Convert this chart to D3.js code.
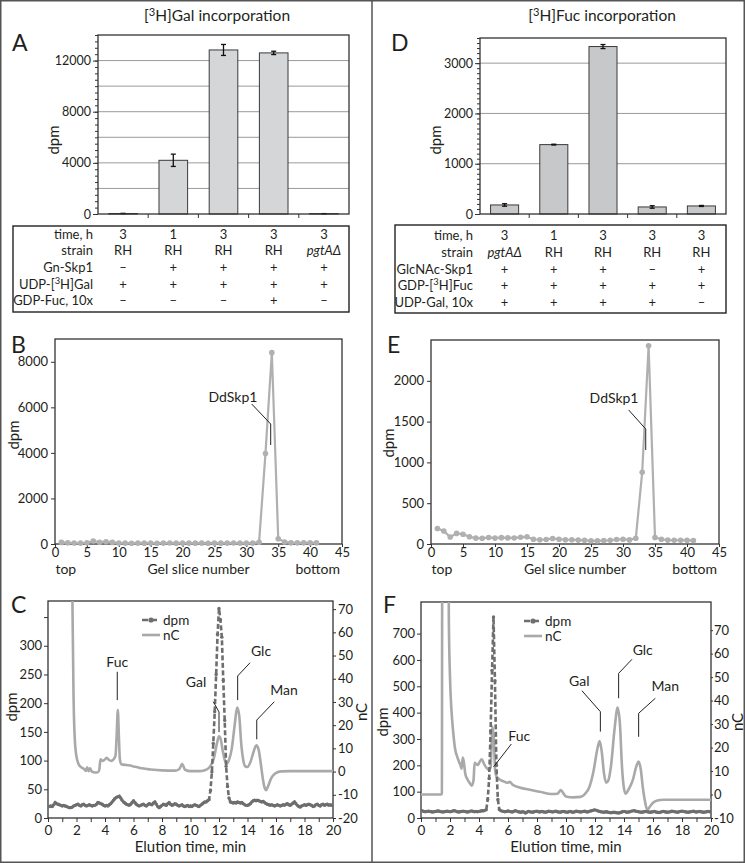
<!DOCTYPE html>
<html><head><meta charset="utf-8">
<script src="https://cdn.jsdelivr.net/npm/d3@7"></script>
<style>
body{margin:0;background:#fff}
svg{display:block}
text{font-family:Lato,"Open Sans",sans-serif;fill:#231f20}
</style></head>
<body><svg id="fig" width="745" height="863"></svg>
<script>
// ================= DATA =================
// Panel A : [3H]Gal incorporation
const galDpm = [40, 4200, 12830, 12600, 30];
const galErr = [0, 480, 430, 130, 0];
const galTicks = [0, 4000, 8000, 12000];
const galGrid = [2000, 4000, 6000, 8000, 10000, 12000];
const galRowLabels = ["time, h", "strain", "Gn-Skp1", "UDP-[3H]Gal", "GDP-Fuc, 10x"];
const galTable = [
  ["3", "1", "3", "3", "3"],
  ["RH", "RH", "RH", "RH", "pgtAΔ"],
  ["–", "+", "+", "+", "+"],
  ["+", "+", "+", "+", "+"],
  ["–", "–", "–", "+", "–"]
];
// Panel D : [3H]Fuc incorporation
const fucDpm = [180, 1380, 3330, 140, 160];
const fucErr = [25, 8, 40, 25, 10];
const fucTicks = [0, 1000, 2000, 3000];
const fucGrid = [1000, 2000, 3000];
const fucRowLabels = ["time, h", "strain", "GlcNAc-Skp1", "GDP-[3H]Fuc", "UDP-Gal, 10x"];
const fucTable = [
  ["3", "1", "3", "3", "3"],
  ["pgtAΔ", "RH", "RH", "RH", "RH"],
  ["+", "+", "+", "–", "+"],
  ["+", "+", "+", "+", "+"],
  ["+", "+", "+", "+", "–"]
];
// Panels B / E : gel slices
const gelSlices = [1,2,3,4,5,6,7,8,9,10,11,12,13,14,15,16,17,18,19,20,21,22,23,24,25,26,27,28,29,30,31,32,33,34,35,36,37,38,39,40,41];
const gelGal = [70,50,45,40,50,130,80,100,70,40, 40,35,40,38,40,35,40,42,38,40, 40,38,40,35,40,38,40,42,40,38, 40,80,3970,8400,230,90,50,50,50,50,50];
const gelFuc = [190,160,85,130,120,88,72,70,80,72, 78,75,74,82,88,58,52,55,68,58, 52,52,48,45,38,38,42,46,55,58, 50,70,880,2430,80,58,48,46,46,45,42];
const gelXTicks = [0,5,10,15,20,25,30,35,40,45];
const gelGalYTicks = [0,2000,4000,6000,8000];
const gelFucYTicks = [0,500,1000,1500,2000];
// Panels C / F : HPAEC, dpm sampled every 0.1 min
const dpmStep = 0.1;
const dpmStartC = 0.1;
const dpmC = [
  20,21,20,23,27,25,24,23,22,21, 22,21,20,19,18,18,19,21,22,23,
  24,22,21,23,24,22,21,22,23,22, 21,22,22,24,27,26,25,24,22,21,
  22,21,23,25,28,31,34,36,37,38, 35,31,28,26,24,23,22,24,27,30,
  27,24,22,21,22,23,24,22,21,23, 25,24,23,26,28,24,20,18,20,22,
  24,23,22,25,27,24,22,23,25,24, 22,21,22,23,21,20,21,22,20,21,
  20,22,23,22,21,20,22,24,26,28, 28,30,32,48,80,130,185,250,320,365,
  345,315,240,170,90,55,35,28,27,26, 27,26,28,27,26,27,25,23,22,22,
  23,25,28,30,31,30,31,30,29,28, 29,27,25,24,23,22,23,22,21,22,
  23,22,21,22,23,22,24,25,23,22, 24,26,28,25,22,20,19,21,22,23,
  22,23,24,23,22,20,21,23,24,22, 21,23,24,22,23,24,22,23,22,23
];
const dpmStartF = 0.0;
const dpmF = [
  29,27,25,24,25,26,25,24,23,24, 25,26,27,25,24,23,24,25,26,25,
  24,25,27,28,26,24,23,24,25,26, 25,24,23,24,26,27,25,24,25,24,
  25,26,28,27,29,31,70,150,330,560, 763,520,200,70,32,28,26,25,24,25,
  27,25,24,23,25,28,26,24,23,22, 24,23,19,22,25,24,23,22,24,25,
  26,24,23,25,24,23,22,24,26,25, 24,23,25,26,24,23,22,24,25,24,
  23,22,24,25,23,22,24,26,25,24, 23,24,25,26,24,23,25,27,28,30,
  31,29,27,25,24,23,22,23,24,22, 21,20,21,22,21,20,19,20,22,24,
  25,24,22,23,24,26,27,28,26,25, 24,23,22,23,24,25,24,23,22,23,
  24,25,23,22,21,22,24,25,24,23, 22,23,24,26,25,24,23,22,24,25,
  26,25,24,23,22,23,24,25,26,24, 23,24,25,24,23,22,23,24,25,24,
  24
];
// nC traces: [time (min), nC]
const ncC = [
  [1.66,140],[1.72,70],[1.80,30],[1.88,14],[1.96,8],[2.05,5],[2.18,2.8],[2.35,1.8],[2.55,1.0],
  [2.65,0.3],[2.75,1.8],[2.85,0.2],[2.95,1.4],[3.08,0.0],[3.3,-0.4],[3.5,-0.3],[3.6,0.8],
  [3.68,5.3],[3.8,4.6],[3.95,5.0],[4.12,5.9],[4.28,5.0],[4.45,4.6],[4.62,5.4],[4.74,7],
  [4.82,16],[4.9,26.5],[4.97,16],[5.04,5.5],[5.14,3.2],[5.5,2.8],[5.85,2.5],[6.0,2.2],
  [6.2,2.0],[6.6,1.4],[7.2,0.9],[8.0,0.5],[8.9,0.4],[9.2,1.0],[9.42,3.2],[9.62,0.8],
  [10.0,0.2],[10.6,0.2],[11.0,0.6],[11.35,2.0],[11.65,6],[11.85,12],[12.0,15.2],
  [12.12,14],[12.26,9],[12.4,5],[12.55,3.3],[12.7,5],[12.9,10],[13.1,20],[13.27,27.6],
  [13.42,24],[13.56,12],[13.7,5],[13.85,2.2],[14.0,2.0],[14.2,4],[14.45,9],[14.62,11.3],
  [14.78,9.5],[14.92,4],[15.05,-2],[15.18,-6.5],[15.3,-8],[15.45,-6.2],[15.65,-3],
  [15.85,-1.3],[16.1,-0.3],[16.4,0.1],[17.0,0.2],[18.5,0.2],[20.0,0.2]
];
const ncF = [
  [0.0,0],[1.40,0],[1.44,0.5],[1.47,130],[1.88,130],[1.92,75],[2.0,50],[2.1,36],[2.2,28],
  [2.35,19.5],[2.5,16],[2.62,14],[2.72,12.5],[2.8,11],[2.88,15.8],[2.95,14],[3.05,9],
  [3.2,6.5],[3.35,5],[3.5,3.8],[3.62,6],[3.7,13.5],[3.8,13],[3.92,12.6],[4.05,14],[4.2,15],
  [4.35,13],[4.5,11.5],[4.68,10.5],[4.8,11.5],[4.93,29],[5.02,24],[5.12,10],[5.22,7.5],
  [5.4,6.5],[5.7,5.6],[5.95,5.0],[6.12,5.4],[6.3,4.3],[6.8,3.0],[7.5,2.0],[8.2,1.2],
  [9.0,0.2],[9.4,0.3],[9.65,1.9],[9.82,0.5],[10.0,-0.8],[10.5,-1.2],[11.0,-1.0],[11.3,0.2],
  [11.6,3],[11.9,10],[12.15,19],[12.32,22.8],[12.47,18],[12.62,9],[12.77,5],[12.92,6],
  [13.1,12],[13.35,28],[13.56,37],[13.72,30],[13.86,12],[14.0,2.5],[14.12,0.3],[14.3,2],
  [14.6,6],[14.85,12],[15.0,14],[15.15,11],[15.3,3],[15.45,-3],[15.6,-6.5],[15.8,-5],
  [16.0,-3.5],[16.3,-2.5],[16.7,-2.2],[18.0,-2.2],[20.0,-2.2]
];
const elutionTicks = [0,1,2,3,4,5,6,7,8,9,10,11,12,13,14,15,16,17,18,19,20];
const elutionLabels = [0,2,4,6,8,10,12,14,16,18,20];
const dpmTicksC = [0,50,100,150,200,250,300,350];
const dpmLabelsC = [0,50,100,150,200,250,300];
const ncTicksC = [-20,-10,0,10,20,30,40,50,60,70];
const dpmTicksF = [0,100,200,300,400,500,600,700];
const ncTicksF = [-10,0,10,20,30,40,50,60,70];
// annotations (label position and leader line in data units: time / nC, slice / dpm)
const annC = [
  {label:"Fuc", at:[4.86,45.0], line:[[4.86,43.0],[4.86,30.8]]},
  {label:"Gal", at:[10.39,36.4], line:[[11.6,30.1],[12.0,25.7],[12.0,17.0]]},
  {label:"Glc", at:[14.95,49.8], line:[[14.18,46.9],[13.31,41.2],[13.31,30.8]]},
  {label:"Man", at:[16.56,33.0], line:[[15.88,30.1],[14.65,22.2],[14.65,13.9]]}
];
const annF = [
  {label:"Fuc", at:[6.78,22.8], line:[[6.23,21.5],[5.01,11.8]]},
  {label:"Gal", at:[10.92,46.2], line:[[11.1,44.2],[12.37,35.3],[12.37,26.8]]},
  {label:"Glc", at:[15.29,59.4], line:[[14.55,57.6],[13.63,51.6],[13.63,41.0]]},
  {label:"Man", at:[16.85,44.1], line:[[16.16,41.0],[15.01,34.6],[15.01,24.6]]}
];
const annB = {label:"DdSkp1", at:[27.9,6256], line:[[30.84,6146],[33.82,5268],[33.82,4346]]};
const annE = {label:"DdSkp1", at:[28.6,1722], line:[[30.89,1642],[33.55,1409],[33.55,1152]]};

// ================= DRAWING =================
const W = 745, H = 863;
const ink = "#231f20", axisCol = "#333";
const svg = d3.select("#fig");

function richText(sel, str){
  const parts = str.split("[3H]");
  sel.append("tspan").text(parts[0]);
  if(parts.length > 1){
    sel.append("tspan").text("[");
    sel.append("tspan").attr("dy",-5).attr("font-size","0.72em").text("3");
    sel.append("tspan").attr("dy",5).text("H]" + parts[1]);
  }
}
function styleAxis(a, fs){
  a.selectAll("line").attr("stroke", axisCol);
  a.selectAll("path").attr("stroke", axisCol);
  a.selectAll("text").attr("fill", ink).style("font-size", fs + "px").style("font-family", "Lato, 'Open Sans', sans-serif");
}
const fmt = d3.format("d");

// figure frame
svg.append("rect").attr("x",0.75).attr("y",0.75).attr("width",W-1.5).attr("height",H-1.5)
  .attr("fill","none").attr("stroke","#555").attr("stroke-width",1.5);
svg.append("line").attr("x1",372).attr("x2",372).attr("y1",0).attr("y2",H)
  .attr("stroke","#555").attr("stroke-width",1.5);

function panelLetter(t, x, y){
  svg.append("text").attr("x",x).attr("y",y).style("font-size","23px").text(t);
}

// ---------- bar panels ----------
function barPanel(o){
  const g = svg.append("g");
  const xb = d3.scaleBand().domain(d3.range(o.vals.length)).range([o.left, o.right]);
  const y = d3.scaleLinear().domain([0, o.max]).range([o.bottom, o.top]);
  const cx = i => xb(i) + xb.bandwidth()/2;
  g.selectAll("line.grid").data(o.grid).join("line").attr("class","grid")
    .attr("x1",o.left).attr("x2",o.right).attr("y1",d=>y(d)).attr("y2",d=>y(d))
    .attr("stroke","#9a9a9a").attr("stroke-width",1);
  g.append("g").attr("transform",`translate(${o.left},0)`)
    .call(d3.axisLeft(y).tickValues(d3.range(0, o.max + 1e-6, o.minor)).tickSize(3).tickFormat(""))
    .call(a => { a.select(".domain").remove(); styleAxis(a, 13); });
  g.append("g").attr("transform",`translate(${o.left},0)`)
    .call(d3.axisLeft(y).tickValues(o.ticks).tickSize(5).tickPadding(2).tickFormat(fmt))
    .call(a => { a.select(".domain").remove(); styleAxis(a, 12.5); });
  const bw = xb.bandwidth()*0.57;
  g.selectAll("rect.bar").data(o.vals).join("rect").attr("class","bar")
    .attr("x",(d,i)=>cx(i)-bw/2).attr("y",d=>y(d)).attr("width",bw).attr("height",d=>y(0)-y(d))
    .attr("fill",o.fill).attr("stroke","#3a3a3a").attr("stroke-width",1);
  const eb = g.selectAll("g.err").data(o.vals).join("g").attr("class","err");
  eb.append("line").attr("x1",(d,i)=>cx(i)).attr("x2",(d,i)=>cx(i))
    .attr("y1",(d,i)=>y(d - o.errs[i])).attr("y2",(d,i)=>y(d + o.errs[i]))
    .attr("stroke","#111").attr("stroke-width",1.3);
  [-1,1].forEach(s=>{
    eb.append("line").attr("x1",(d,i)=>cx(i)-2.5).attr("x2",(d,i)=>cx(i)+2.5)
      .attr("y1",(d,i)=>y(d + s*o.errs[i])).attr("y2",(d,i)=>y(d + s*o.errs[i]))
      .attr("stroke","#111").attr("stroke-width",1.3);
  });
  g.append("rect").attr("x",o.left).attr("y",o.top).attr("width",o.right-o.left).attr("height",o.bottom-o.top)
    .attr("fill","none").attr("stroke",axisCol).attr("stroke-width",1.3);
  g.selectAll("line.ct").data(d3.range(1, o.vals.length)).join("line").attr("class","ct")
    .attr("x1",i=>xb(i)).attr("x2",i=>xb(i)).attr("y1",o.bottom).attr("y2",o.bottom+4)
    .attr("stroke",axisCol);
  g.append("text").attr("transform",`translate(${o.ylabX},${o.ylabY}) rotate(-90)`)
    .attr("text-anchor","middle").style("font-size","15px").text("dpm");
  const tt = g.append("text").attr("x",o.titleX).attr("y",21).attr("text-anchor","middle").style("font-size","15.5px");
  richText(tt, o.title);
  // table
  const tb = svg.append("g");
  tb.append("rect").attr("x",o.tx0).attr("y",o.ty0).attr("width",o.tx1-o.tx0).attr("height",o.ty1-o.ty0)
    .attr("fill","none").attr("stroke","#222").attr("stroke-width",1.4);
  o.rowLabels.forEach((lab, r)=>{
    const yy = o.rowY0 + r*o.rowStep;
    const t = tb.append("text").attr("x",o.labelX).attr("y",yy).attr("text-anchor","end").style("font-size","13px");
    richText(t, lab);
    o.table[r].forEach((c, i)=>{
      tb.append("text").attr("x",cx(i)).attr("y",yy).attr("text-anchor","middle").style("font-size","13px")
        .style("font-style", c.indexOf("Δ")>=0 ? "italic" : null).text(c);
    });
  });
}

barPanel({left:98,right:349,top:35,bottom:214,max:14000,minor:500,ticks:galTicks,grid:galGrid,
  vals:galDpm,errs:galErr,fill:"#d5d6d8",ylabX:59,ylabY:140,titleX:217,title:"[3H]Gal incorporation",
  tx0:13,tx1:349,ty0:226,ty1:312,labelX:93,rowY0:238.7,rowStep:16.6,rowLabels:galRowLabels,table:galTable});
barPanel({left:480,right:726,top:38,bottom:214,max:3500,minor:100,ticks:fucTicks,grid:fucGrid,
  vals:fucDpm,errs:fucErr,fill:"#c6c8ca",ylabX:441,ylabY:140,titleX:602,title:"[3H]Fuc incorporation",
  tx0:395,tx1:726,ty0:225,ty1:313,labelX:473,rowY0:240.3,rowStep:16.6,rowLabels:fucRowLabels,table:fucTable});

// ---------- gel slice panels ----------
function gelPanel(o){
  const g = svg.append("g");
  const x = d3.scaleLinear().domain([0,45]).range([o.left,o.right]);
  const y = d3.scaleLinear().domain([0,o.max]).range([o.bottom,o.top]);
  g.append("g").attr("transform",`translate(0,${o.bottom})`)
    .call(d3.axisBottom(x).tickValues(gelXTicks).tickSize(3).tickPadding(1).tickFormat(fmt))
    .call(a => { a.select(".domain").remove(); styleAxis(a, 13); });
  g.append("g").attr("transform",`translate(${o.left},0)`)
    .call(d3.axisLeft(y).tickValues(o.ticks).tickSize(4).tickPadding(3).tickFormat(fmt))
    .call(a => { a.select(".domain").remove(); styleAxis(a, 13); });
  g.append("rect").attr("x",o.left).attr("y",o.top).attr("width",o.right-o.left).attr("height",o.bottom-o.top)
    .attr("fill","none").attr("stroke",axisCol).attr("stroke-width",1.3);
  const col = "#b0b0b0";
  g.append("path").datum(o.vals)
    .attr("d", d3.line().x((d,i)=>x(gelSlices[i])).y(d=>y(d)))
    .attr("fill","none").attr("stroke",col).attr("stroke-width",2.2);
  g.selectAll("circle").data(o.vals).join("circle")
    .attr("cx",(d,i)=>x(gelSlices[i])).attr("cy",d=>y(d)).attr("r",2.8).attr("fill",col);
  g.append("path").attr("d", d3.line().x(d=>x(d[0])).y(d=>y(d[1]))(o.ann.line))
    .attr("fill","none").attr("stroke","#222").attr("stroke-width",1);
  g.append("text").attr("x",x(o.ann.at[0])).attr("y",y(o.ann.at[1])).attr("text-anchor","middle")
    .style("font-size","14px").text(o.ann.label);
  const ly = o.bottom + 30;
  g.append("text").attr("x",x(1.7)).attr("y",ly).attr("text-anchor","middle").style("font-size","14px").text("top");
  g.append("text").attr("x",x(22.5)).attr("y",ly).attr("text-anchor","middle").style("font-size","14px").text("Gel slice number");
  g.append("text").attr("x",x(41.2)).attr("y",ly).attr("text-anchor","middle").style("font-size","14px").text("bottom");
  g.append("text").attr("transform",`translate(${o.ylabX},${o.ylabY}) rotate(-90)`)
    .attr("text-anchor","middle").style("font-size","15px").text("dpm");
}
gelPanel({left:55,right:342,top:339,bottom:544,max:9000,ticks:gelGalYTicks,vals:gelGal,ann:annB,ylabX:19,ylabY:435});
gelPanel({left:431,right:719,top:340,bottom:544,max:2500,ticks:gelFucYTicks,vals:gelFuc,ann:annE,ylabX:394,ylabY:443});

// ---------- chromatogram panels ----------
let clipN = 0;
function chromPanel(o){
  const g = svg.append("g");
  const x = d3.scaleLinear().domain([0,20]).range([o.left,o.right]);
  const yL = d3.scaleLinear().domain([0,o.lmax]).range([o.bottom,o.top]);
  const yR = d3.scaleLinear().domain([o.rmin,o.rmax]).range([o.bottom,o.top]);
  const id = "clip" + (clipN++);
  svg.append("clipPath").attr("id",id).append("rect")
    .attr("x",o.left).attr("y",o.top).attr("width",o.right-o.left).attr("height",o.bottom-o.top);
  g.append("g").attr("transform",`translate(0,${o.bottom})`)
    .call(d3.axisBottom(x).tickValues(elutionTicks).tickSize(4).tickPadding(3)
      .tickFormat(d => elutionLabels.indexOf(d) >= 0 ? d : ""))
    .call(a => { a.select(".domain").remove(); styleAxis(a, 13.5); });
  g.append("g").attr("transform",`translate(${o.left},0)`)
    .call(d3.axisLeft(yL).tickValues(o.lticks).tickSize(4).tickPadding(2)
      .tickFormat(d => o.llabels.indexOf(d) >= 0 ? d : ""))
    .call(a => { a.select(".domain").remove(); styleAxis(a, 13); });
  g.append("g").attr("transform",`translate(${o.right},0)`)
    .call(d3.axisRight(yR).tickValues(o.rticks).tickSize(o.rTick).tickPadding(o.rPad).tickFormat(d => d < 0 ? "-" + Math.abs(d) : d))
    .call(a => { a.select(".domain").remove(); styleAxis(a, 13); });
  g.append("rect").attr("x",o.left).attr("y",o.top).attr("width",o.right-o.left).attr("height",o.bottom-o.top)
    .attr("fill","none").attr("stroke",axisCol).attr("stroke-width",1.3);
  const cg = g.append("g").attr("clip-path",`url(#${id})`);
  const ncCol = "#a9a9a9", dpmCol = "#6e6e6e";
  cg.append("path").datum(o.nc)
    .attr("d", d3.line().x(d=>x(d[0])).y(d=>yR(d[1])).curve(d3.curveMonotoneX))
    .attr("fill","none").attr("stroke",ncCol).attr("stroke-width",2.6).attr("stroke-linejoin","round");
  const tOf = i => o.dpmStart + i*dpmStep;
  cg.append("path").datum(o.dpm)
    .attr("d", d3.line().x((d,i)=>x(tOf(i))).y(d=>yL(d)))
    .attr("fill","none").attr("stroke",dpmCol).attr("stroke-width",2.6).attr("stroke-dasharray","5,2.5");
  cg.selectAll("circle").data(o.dpm).join("circle")
    .attr("cx",(d,i)=>x(tOf(i))).attr("cy",d=>yL(d)).attr("r",1.7).attr("fill",dpmCol);
  // legend
  const lg = g.append("g").attr("transform",`translate(${o.legX},${o.top+19})`);
  lg.append("line").attr("x1",0).attr("x2",18).attr("y1",0).attr("y2",0)
    .attr("stroke",dpmCol).attr("stroke-width",2.6).attr("stroke-dasharray","6,3");
  lg.append("circle").attr("cx",9).attr("cy",0).attr("r",2.6).attr("fill",dpmCol);
  lg.append("text").attr("x",21).attr("y",4.5).style("font-size","13.5px").text("dpm");
  lg.append("line").attr("x1",0).attr("x2",18).attr("y1",15).attr("y2",15)
    .attr("stroke",ncCol).attr("stroke-width",2.6);
  lg.append("text").attr("x",21).attr("y",19.5).style("font-size","13.5px").text("nC");
  o.ann.forEach(a=>{
    g.append("path").attr("d", d3.line().x(d=>x(d[0])).y(d=>yR(d[1]))(a.line))
      .attr("fill","none").attr("stroke","#222").attr("stroke-width",1);
    g.append("text").attr("x",x(a.at[0])).attr("y",yR(a.at[1])).attr("text-anchor","middle")
      .style("font-size","14px").text(a.label);
  });
  g.append("text").attr("x",(o.left+o.right)/2).attr("y",o.bottom+34).attr("text-anchor","middle")
    .style("font-size","15px").text("Elution time, min");
  g.append("text").attr("transform",`translate(${o.ylabX},${o.ylabY}) rotate(-90)`)
    .attr("text-anchor","middle").style("font-size","15px").text("dpm");
  g.append("text").attr("transform",`translate(${o.nclabX},${o.nclabY}) rotate(-90)`)
    .attr("text-anchor","middle").style("font-size","15px").text("nC");
}
chromPanel({left:48,right:333,top:601,bottom:818,lmax:378,rmin:-20,rmax:73.5,rTick:3,rPad:2,
  lticks:dpmTicksC,llabels:dpmLabelsC,rticks:ncTicksC,nc:ncC,dpm:dpmC,dpmStart:dpmStartC,
  ann:annC,legX:142,ylabX:17,ylabY:707,nclabX:367,nclabY:712});
chromPanel({left:421,right:711,top:602,bottom:818,lmax:820,rmin:-10,rmax:82,rTick:2,rPad:1,
  lticks:dpmTicksF,llabels:dpmTicksF,rticks:ncTicksF,nc:ncF,dpm:dpmF,dpmStart:dpmStartF,
  ann:annF,legX:524,ylabX:388,ylabY:722,nclabX:743,nclabY:722});

panelLetter("A", 12, 51);
panelLetter("D", 391, 51);
panelLetter("B", 11, 353);
panelLetter("E", 387, 353);
panelLetter("C", 11, 613);
panelLetter("F", 383, 613);
</script>
</body></html>
